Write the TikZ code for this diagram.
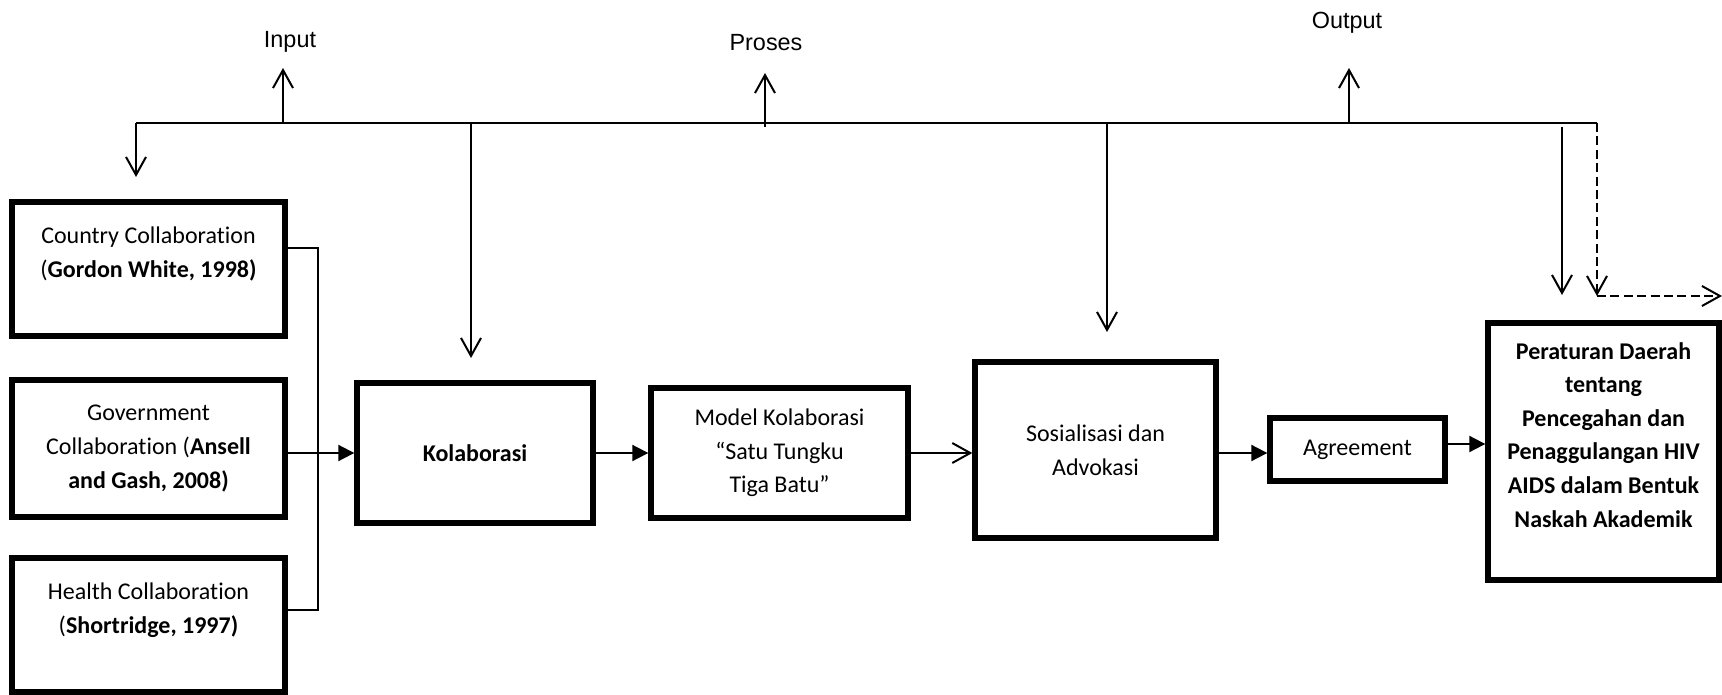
\documentclass[tikz,border=0pt]{standalone}
\usepackage{fontspec}
\setmainfont{Carlito}[Ligatures=NoCommon]
\newfontfamily\arialf{Liberation Sans}
\usetikzlibrary{arrows.meta}
\begin{document}
\begin{tikzpicture}[x=0.5pt,y=-0.5pt,
  box/.style={draw,line width=2.7pt,align=center,inner sep=0pt,font=\fontsize{12}{16.8}\selectfont},
  conn/.style={line width=1pt},
  openarr/.style={conn,-{Straight Barb[length=9pt,width=10pt]}},
  fillarr/.style={conn,-{Triangle[length=8pt,width=8pt]}},
  dashline/.style={line width=1.2pt,dash pattern=on 4.5pt off 2.2pt},
  toplabel/.style={font=\arialf\fontsize{11.7}{14}\selectfont,inner sep=0pt}]
\useasboundingbox (0,0) rectangle (1722,695);

% boxes
\node[box,minimum width=136.5pt,minimum height=67pt] (country) at (148.5,269)
  {Country Collaboration\\(\textbf{Gordon White, 1998)}\\\mbox{}};
\node[box,minimum width=136.5pt,minimum height=68.5pt] (gov) at (148.5,448.5)
  {Government\\Collaboration (\textbf{Ansell}\\\textbf{and Gash, 2008)}};
\node[box,minimum width=136.5pt,minimum height=67pt] (health) at (148.5,625)
  {Health Collaboration\\(\textbf{Shortridge, 1997)}\\\mbox{}};
\node[box,minimum width=118pt,minimum height=70pt] (kol) at (475,453) {\textbf{Kolaborasi}};
\node[box,minimum width=128.5pt,minimum height=65pt] (model) at (779.5,453)
  {Model Kolaborasi\\“Satu Tungku\\Tiga Batu”};
\node[box,minimum width=120.5pt,minimum height=88pt] (sos) at (1095.5,450)
  {Sosialisasi dan\\Advokasi};
\node[box,minimum width=87.5pt,minimum height=31.5pt] (agr) at (1357.5,449.5) {Agreement};
\node[box,minimum width=115.5pt,minimum height=128.5pt] (perda) at (1603.5,451.5)
  {\textbf{Peraturan Daerah}\\\textbf{tentang}\\\textbf{Pencegahan dan}\\\textbf{Penaggulangan HIV}\\\textbf{AIDS dalam Bentuk}\\\textbf{Naskah Akademik}\\\mbox{}};

% top labels
\node[toplabel] (lin) at (290,42) {Input};
\node[toplabel] (lpr) at (766,43) {Proses};
\node[toplabel] (lout) at (1347,23) {Output};

% bus
\coordinate (busL) at (136,123);
\coordinate (busR) at (1597,123);
\draw[conn] (busL) -- (busR);

% up arrows
\coordinate (inB) at (283,123);  \coordinate (inT) at (283,68);
\coordinate (prB) at (765,127);  \coordinate (prT) at (765,73);
\coordinate (outB) at (1349,123); \coordinate (outT) at (1349,68);
\draw[openarr] (inB) -- (inT);
\draw[openarr] (prB) -- (prT);
\draw[openarr] (outB) -- (outT);

% down arrows
\coordinate (ctTip) at (136,177);
\draw[openarr] (busL) -- (ctTip);
\coordinate (kB) at (471,123); \coordinate (kT) at (471,358);
\draw[openarr] (kB) -- (kT);
\coordinate (sB) at (1107,123); \coordinate (sT) at (1107,332);
\draw[openarr] (sB) -- (sT);
\coordinate (pB) at (1562,127); \coordinate (pT) at (1562,295);
\draw[openarr] (pB) -- (pT);
\coordinate (dC) at (1597,296); \coordinate (dE) at (1722,296);
\draw[dashline,-{Straight Barb[length=9pt,width=10pt,line width=1pt]}] (busR) -- (dC);
\draw[dashline,-{Straight Barb[length=9pt,width=10pt,line width=1pt]}] (dC) -- (dE);

% bracket
\coordinate (bt) at (318,248);
\coordinate (bb) at (318,610);
\draw[line width=0.6pt] (country.east |- bt) -- (bt) -- (bb) -- (health.east |- bb);

% flow arrows
\draw[fillarr] (gov.east |- kol.west) -- (kol.west);
\draw[fillarr] (kol.east) -- (model.west);
\draw[openarr] (model.east) -- (model.east -| sos.west);
\draw[fillarr] (sos.east |- 0,453) -- (agr.west |- 0,453);
\draw[fillarr] (agr.east |- 0,444) -- (perda.west |- 0,444);
\end{tikzpicture}
\end{document}
